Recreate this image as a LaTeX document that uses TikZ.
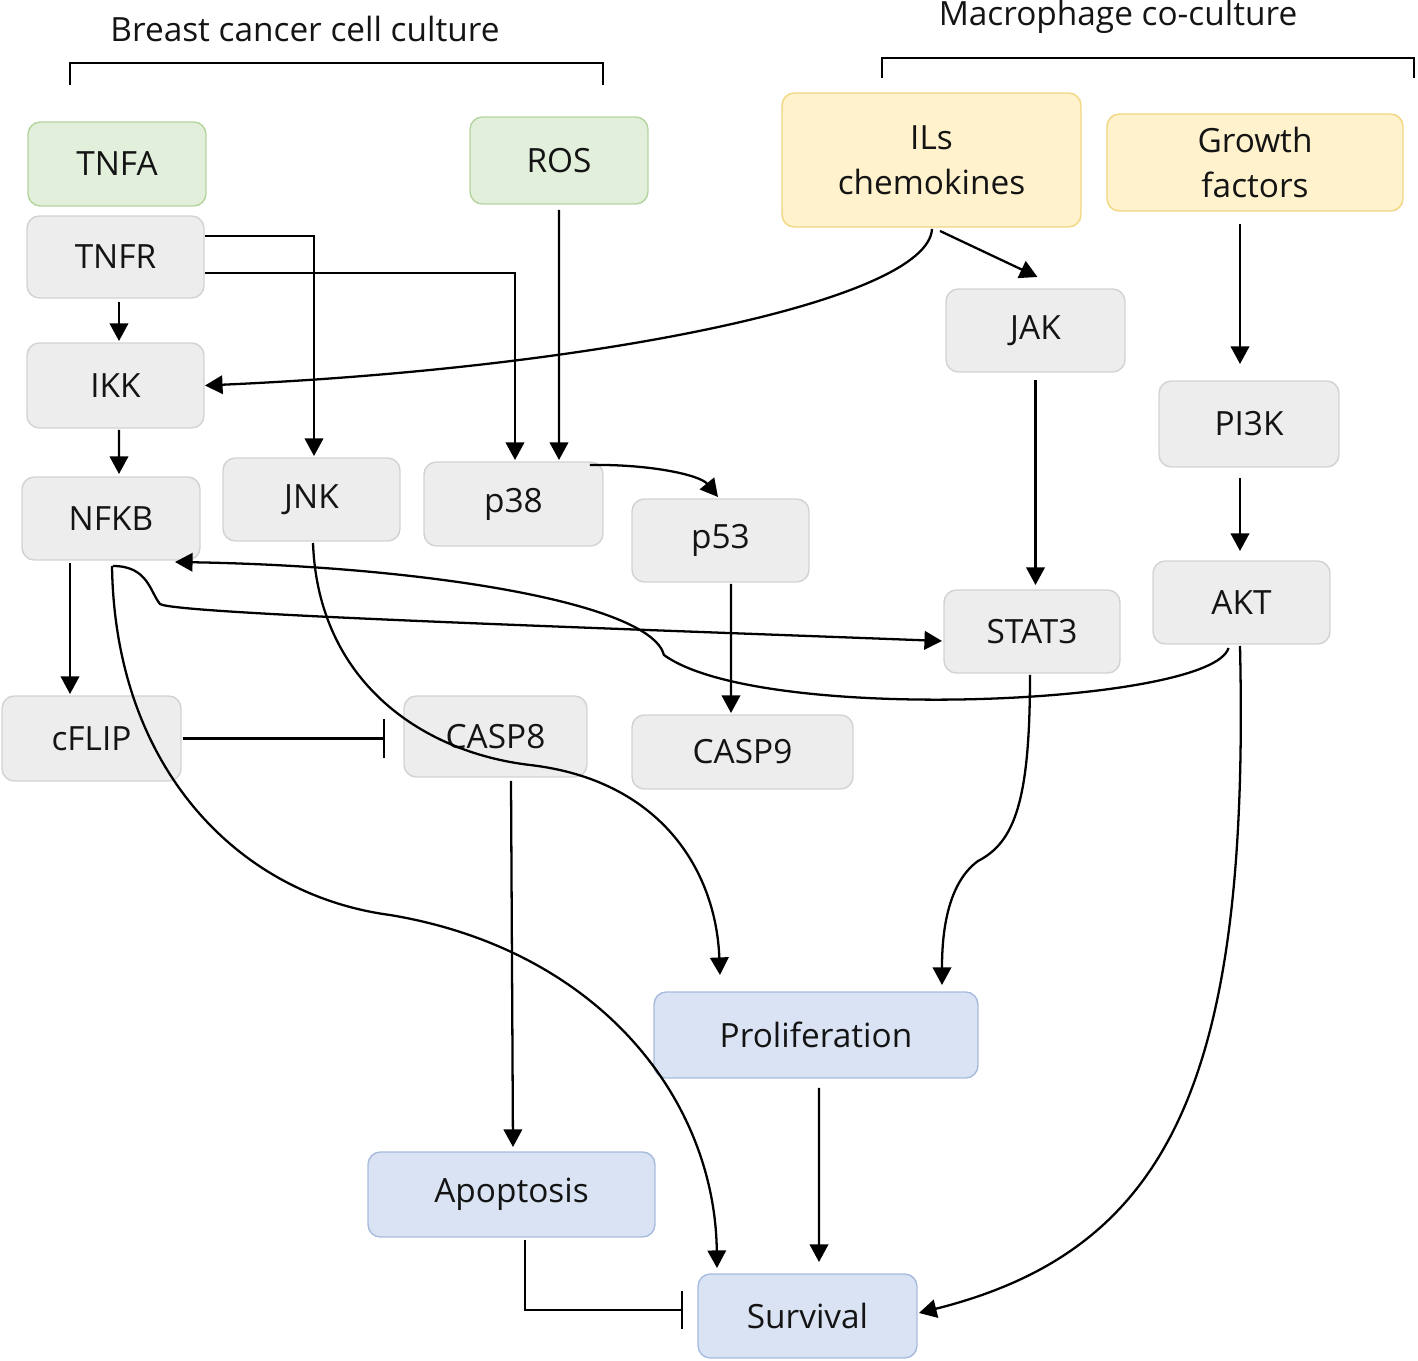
\documentclass[tikz,border=0pt]{standalone}
\usepackage{fontspec}
\setmainfont{Open Sans}
\usetikzlibrary{arrows.meta,calc}
\definecolor{gfill}{HTML}{E2EFDA}
\definecolor{gdraw}{HTML}{B4D4A0}
\definecolor{kfill}{HTML}{EDEDED}
\definecolor{kdraw}{HTML}{D2D2D2}
\definecolor{yfill}{HTML}{FFF2CC}
\definecolor{ydraw}{HTML}{F2D67E}
\definecolor{bfill}{HTML}{DAE3F3}
\definecolor{bdraw}{HTML}{A7BBDD}
\newcommand{\nodefont}{\fontsize{19}{25.5}\selectfont}
\tikzset{
  box/.style={rounded corners=7pt, draw, line width=0.8pt, align=center, inner sep=0pt, outer sep=0pt, font=\nodefont, text=black!92},
  gbox/.style={box, fill=gfill, draw=gdraw},
  kbox/.style={box, fill=kfill, draw=kdraw},
  ybox/.style={box, fill=yfill, draw=ydraw},
  bbox/.style={box, fill=bfill, draw=bdraw},
  arr/.style={-{Triangle[length=10pt,width=10.5pt]}, line width=1.3pt},
  inh/.style={-{Bar[width=22pt]}, line width=1.3pt},
  brk/.style={line width=1.2pt},
  lbl/.style={font=\nodefont, text=black!92, inner sep=0pt}
}
\begin{document}
\begin{tikzpicture}[x=0.02cm,y=-0.02cm]
\useasboundingbox (0,0) rectangle (1418,1361);
% group labels and brackets
\node[lbl] (lblL) at (305,29) {Breast cancer cell culture};
\node[lbl] (lblR) at (1118,17) {Macrophage co-culture};
\coordinate (bL1) at (70,85); \coordinate (bL2) at (603,85);
\coordinate (bR1) at (882,78); \coordinate (bR2) at (1414,78);
\draw[brk] (bL1) -- ++(0,-22) -| (bL2);
\draw[brk] (bR1) -- ++(0,-20) -| (bR2);
% nodes
\node[gbox, minimum width=3.56cm, minimum height=1.68cm] (TNFA) at (117,164) {TNFA};
\node[kbox, minimum width=3.54cm, minimum height=1.64cm] (TNFR) at (115.5,257) {TNFR};
\node[kbox, minimum width=3.54cm, minimum height=1.70cm] (IKK) at (115.5,385.5) {IKK};
\node[kbox, minimum width=3.56cm, minimum height=1.66cm] (NFKB) at (111,518.5) {NFKB};
\node[kbox, minimum width=3.54cm, minimum height=1.66cm] (JNK) at (311.5,499.5) {JNK};
\node[kbox, minimum width=3.58cm, minimum height=1.68cm] (p38) at (513.5,504) {p38};
\node[gbox, minimum width=3.56cm, minimum height=1.74cm] (ROS) at (559,160.5) {ROS};
\node[kbox, minimum width=3.54cm, minimum height=1.66cm] (p53) at (720.5,540.5) {p53};
\node[ybox, minimum width=5.98cm, minimum height=2.68cm] (ILs) at (931.5,160) {ILs\\chemokines};
\node[ybox, minimum width=5.92cm, minimum height=1.94cm] (GF) at (1255,162.5) {Growth\\factors};
\node[kbox, minimum width=3.58cm, minimum height=1.66cm] (JAK) at (1035.5,330.5) {JAK};
\node[kbox, minimum width=3.60cm, minimum height=1.72cm] (PI3K) at (1249,424) {PI3K};
\node[kbox, minimum width=3.54cm, minimum height=1.66cm] (AKT) at (1241.5,602.5) {AKT};
\node[kbox, minimum width=3.52cm, minimum height=1.66cm] (STAT3) at (1032,631.5) {STAT3};
\node[kbox, minimum width=3.58cm, minimum height=1.70cm] (cFLIP) at (91.5,738.5) {cFLIP};
\node[kbox, minimum width=3.66cm, minimum height=1.62cm] (CASP8) at (495.5,736.5) {CASP8};
\node[kbox, minimum width=4.42cm, minimum height=1.48cm] (CASP9) at (742.5,752) {CASP9};
\node[bbox, minimum width=6.48cm, minimum height=1.72cm] (PROL) at (816,1035) {Proliferation};
\node[bbox, minimum width=5.74cm, minimum height=1.70cm] (APOP) at (511.5,1194.5) {Apoptosis};
\node[bbox, minimum width=4.38cm, minimum height=1.68cm] (SURV) at (807.5,1316) {Survival};
% straight / orthogonal connectors
\draw[arr] ($(TNFR.east)+(1,-21)$) -| ($(JNK.north)+(2.5,-2)$);
\draw[arr] ($(TNFR.east)+(1,16)$) -| ($(p38.north)+(1.5,-2)$);
\draw[arr] ($(ROS.south)+(0,6)$) -- ($(p38.north)+(45.5,-2)$);
\draw[arr] ($(TNFR.south)+(3.5,4)$) -- ($(IKK.north)+(3.5,-2)$);
\draw[arr] ($(IKK.south)+(3.5,2)$) -- ($(NFKB.north)+(8,-3)$);
\draw[arr] ($(ILs.south)+(8.5,4)$) -- ($(JAK.north)+(2,-12)$);
\draw[arr] ($(GF.south)+(-15,13)$) -- ($(PI3K.north)+(-9,-17)$);
\draw[arr] ($(PI3K.south)+(-9,11)$) -- ($(AKT.north)+(-1.5,-10)$);
\draw[arr] ($(JAK.south)+(0,8)$) -- ($(STAT3.north)+(3.5,-5)$);
\draw[arr] ($(p53.south)+(10.5,2)$) -- ($(CASP9.north)+(-11.5,-2)$);
\draw[arr] ($(NFKB.south)+(-41,3)$) -- ($(cFLIP.north)+(-21.5,-2)$);
\draw[inh] ($(cFLIP.east)+(2,0)$) -- ($(CASP8.west)+(-19,2)$);
\draw[arr] ($(CASP8.south)+(15.5,4)$) -- ($(APOP.north)+(1.5,-5)$);
\draw[arr] ($(PROL.south)+(3,10)$) -- ($(SURV.north)+(11.5,-12)$);
\draw[inh] ($(APOP.south)+(13.5,3)$) |- ($(SURV.west)+(-15,-6)$);
% curved connectors
\draw[arr] ($(ILs.south)+(0.5,2)$) .. controls (928,300) and (600,368) .. ($(IKK.east)+(1,0)$);
\draw[arr] ($(p38.north east)+(-13,3)$) .. controls (650,464) and (700,475) .. ($(p53.north)+(-2.5,-2)$);
\coordinate (c1) at (160,604);
\draw[arr] ($(NFKB.south)+(2,6)$) .. controls (148,566) and (150,592) .. (c1)
  .. controls (175,614) and (600,628) .. ($(STAT3.west)+(-2,9.5)$);
\coordinate (c2) at (664,655);
\draw[arr] ($(AKT.south)+(-13,4)$) .. controls (1212,705) and (760,725) .. (c2)
  .. controls (650,602) and (420,566) .. ($(NFKB.south east)+(-25,2)$);
\coordinate (c3) at (530,765);
\draw[arr] ($(JNK.south)+(1.5,2)$) .. controls (318,680) and (420,752) .. (c3)
  .. controls (660,780) and (716,870) .. ($(PROL.north)+(-96,-17)$);
\coordinate (c4) at (978,861);
\draw[arr] ($(STAT3.south)+(-2,2)$) .. controls (1030,800) and (1015,842) .. (c4)
  .. controls (945,885) and (942,940) .. ($(PROL.north)+(126,-7)$);
\coordinate (c5) at (390,915);
\draw[arr] ($(NFKB.south)+(1,6)$) .. controls (115,770) and (240,895) .. (c5)
  .. controls (600,950) and (715,1100) .. ($(SURV.north)+(-90.5,-6)$);
\draw[arr] ($(AKT.south)+(-1.5,2)$) .. controls (1250,1080) and (1170,1250) .. ($(SURV.east)+(2,-3)$);
\end{tikzpicture}
\end{document}
